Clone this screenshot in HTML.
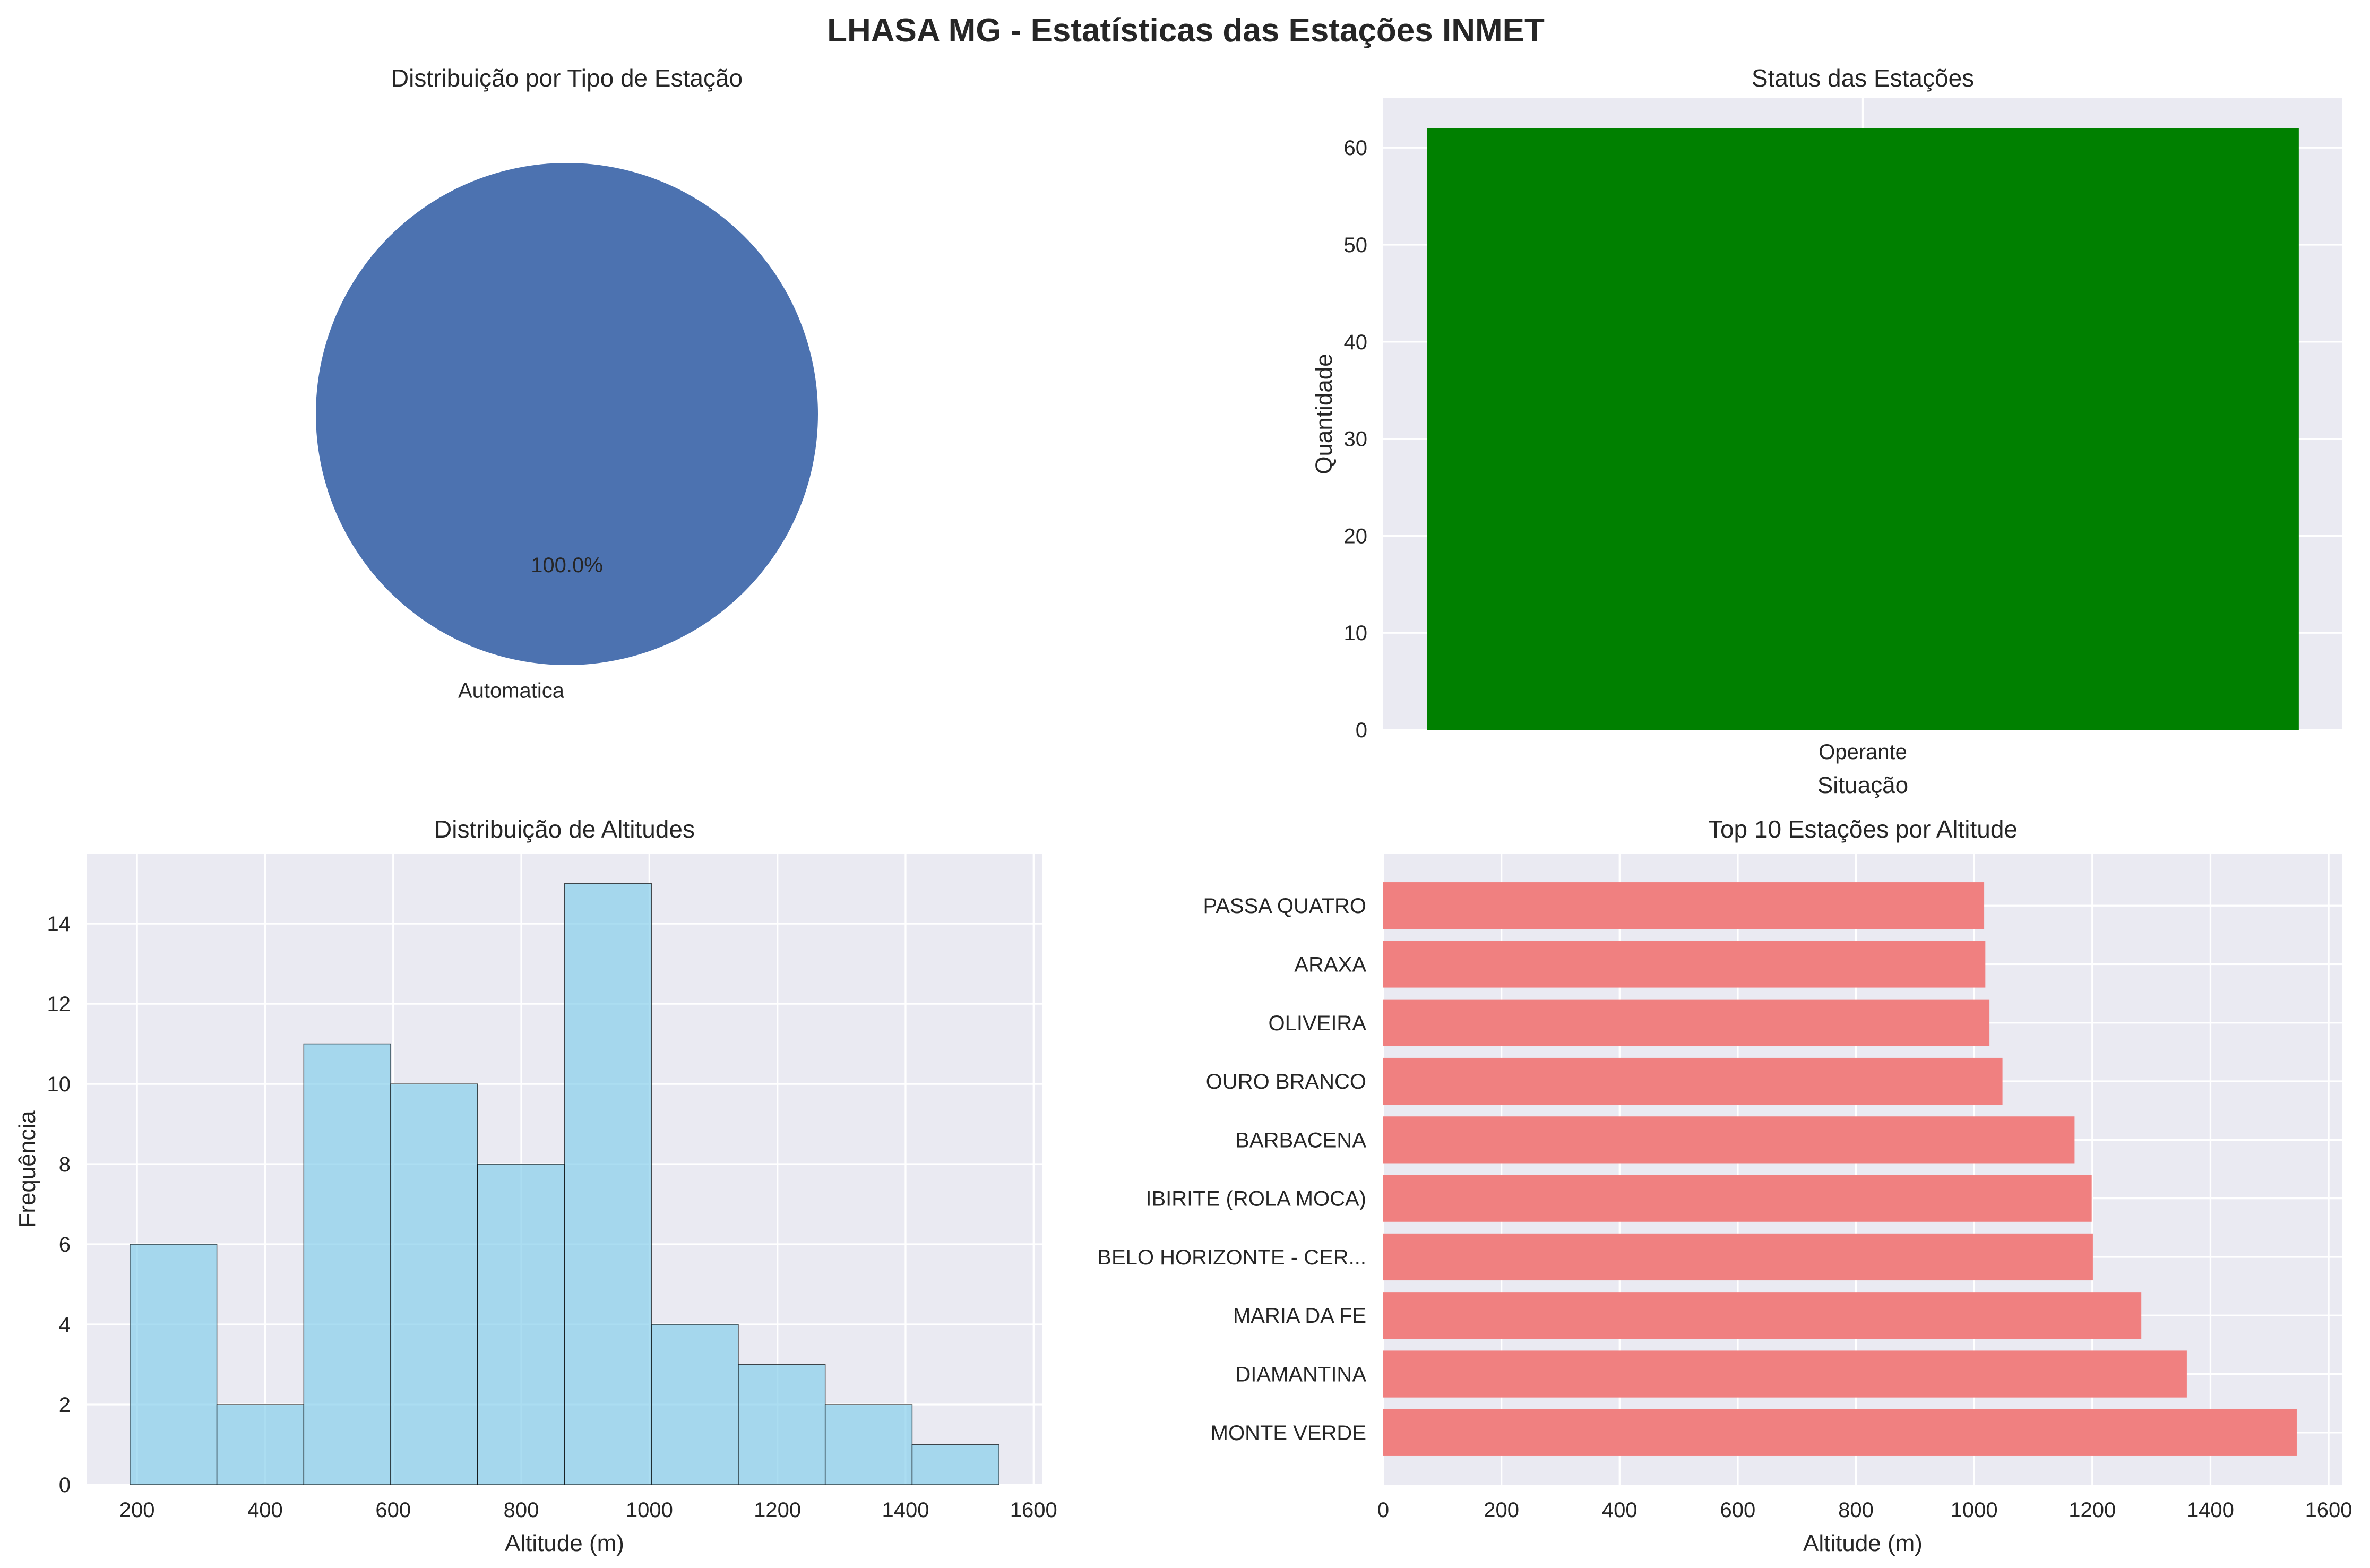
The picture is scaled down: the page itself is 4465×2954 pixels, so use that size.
<!DOCTYPE html>
<html><head><meta charset="utf-8"><style>
html,body{margin:0;padding:0;background:#fff}
svg{display:block;font-family:"Liberation Sans",Arial,sans-serif}
</style></head><body>
<svg id="fig" width="4465" height="2954" viewBox="0 0 4465 2954" xmlns="http://www.w3.org/2000/svg">
<text x="2234" y="78" text-anchor="middle" font-size="62" font-weight="bold" fill="#262626">LHASA MG - Estatísticas das Estações INMET</text>
<g id="pie"></g>
<g id="status"></g>
<g id="hist"></g>
<g id="top10"></g>
</svg>
<script>
const pieLabels=["Automatica"];
const pieValues=[62];
const statusCats=["Operante"];
const statusValues=[62];
const statusTicks=[0,10,20,30,40,50,60];
const histCounts=[6,2,11,10,8,15,4,3,2,1];
const histMin=189, histMax=1546;
const histXTicks=[200,400,600,800,1000,1200,1400,1600];
const histYTicks=[0,2,4,6,8,10,12,14];
const topNames=["MONTE VERDE","DIAMANTINA","MARIA DA FE","BELO HORIZONTE - CER...","IBIRITE (ROLA MOCA)","BARBACENA","OURO BRANCO","OLIVEIRA","ARAXA","PASSA QUATRO"];
const topValues=[1546,1360,1283,1201,1199,1170,1048,1026,1019,1017];
const topXTicks=[0,200,400,600,800,1000,1200,1400,1600];

const NS="http://www.w3.org/2000/svg";
function mk(parent,tag,attrs,text){const e=document.createElementNS(NS,tag);for(const k in attrs)e.setAttribute(k,attrs[k]);if(text!==undefined)e.textContent=text;parent.appendChild(e);return e;}
const TXT="#262626", FS=40, TFS=46, LFS=44;

// Pie
(function(){
  const g=document.getElementById('pie');
  const cx=1068,cy=780,r=473;
  mk(g,'text',{x:cx,y:163,'text-anchor':'middle','font-size':TFS,fill:TXT},'Distribuição por Tipo de Estação');
  const total=pieValues.reduce((a,b)=>a+b,0);
  let a0=-Math.PI/2;
  pieValues.forEach((v,i)=>{
    const frac=v/total;
    let el;
    if(frac>=0.9999){el=mk(g,'circle',{cx:cx,cy:cy,r:r,fill:'#4C72B0'});}
    else{const a1=a0+frac*2*Math.PI;const la=frac>0.5?1:0;
      el=mk(g,'path',{d:`M${cx},${cy} L${cx+r*Math.cos(a0)},${cy+r*Math.sin(a0)} A${r},${r} 0 ${la} 1 ${cx+r*Math.cos(a1)},${cy+r*Math.sin(a1)} Z`,fill:'#4C72B0'});}
    
    
    const mid=Math.PI/2;
    const pt=mk(g,'text',{x:cx,y:cy+0.6*r*Math.sin(mid)+14,'text-anchor':'middle','font-size':FS,fill:TXT},(frac*100).toFixed(1)+'%');
    
    
    const lt=mk(g,'text',{x:cx-105,y:cy+1.1*r+14,'text-anchor':'middle','font-size':FS,fill:TXT},pieLabels[i]);
    
    
    a0+=frac*2*Math.PI;
  });
})();

function axesBg(g,L,T,R,B){const r=mk(g,'rect',{x:L,y:T,width:R-L,height:B-T,fill:'#EAEAF2'});}
function vgrid(g,x,T,B){mk(g,'line',{x1:x,x2:x,y1:T,y2:B,stroke:'#fff','stroke-width':3.3});}
function hgrid(g,y,L,R){mk(g,'line',{x1:L,x2:R,y1:y,y2:y,stroke:'#fff','stroke-width':3.3});}

// Status
(function(){
  const g=document.getElementById('status');
  const L=2606,R=4413,T=185,B=1375;
  const ymax=Math.max(...statusValues)*1.05;
  const Y=v=>B-(v/ymax)*(B-T);
  const n=statusCats.length;
  const X=i=>L+((i+0.44)/(n-1+0.88))*(R-L);
  axesBg(g,L,T,R,B);
  statusTicks.forEach(t=>{hgrid(g,Y(t),L,R);
    const tl=mk(g,'text',{x:L-30,y:Y(t)+14,'text-anchor':'end','font-size':FS,fill:TXT},t);
    
    });
  statusCats.forEach((c,i)=>vgrid(g,X(i),T,B));
  const bw=0.8/(n-1+0.88)*(R-L);
  statusValues.forEach((v,i)=>{
    const b=mk(g,'rect',{x:X(i)-bw/2,y:Y(v),width:bw,height:B-Y(v),fill:'#008000'});
    
    
    const xl=mk(g,'text',{x:X(i),y:1430,'text-anchor':'middle','font-size':FS,fill:TXT},statusCats[i]);
    
    
  });
  mk(g,'text',{x:(L+R)/2,y:163,'text-anchor':'middle','font-size':TFS,fill:TXT},'Status das Estações');
  mk(g,'text',{x:(L+R)/2,y:1494,'text-anchor':'middle','font-size':LFS,fill:TXT},'Situação');
  mk(g,'text',{x:2509,y:(T+B)/2,'text-anchor':'middle','font-size':LFS,fill:TXT,transform:`rotate(-90 2509 ${(T+B)/2})`},'Quantidade');
})();

// Histogram
(function(){
  const g=document.getElementById('hist');
  const L=163,R=1964,T=1608,B=2797;
  const span=histMax-histMin, x0=histMin-0.05*span, x1=histMax+0.05*span;
  const X=v=>L+(v-x0)/(x1-x0)*(R-L);
  const ymax=Math.max(...histCounts)*1.05;
  const Y=v=>B-(v/ymax)*(B-T);
  axesBg(g,L,T,R,B);
  histXTicks.forEach(t=>{vgrid(g,X(t),T,B);
    const tl=mk(g,'text',{x:X(t),y:2858,'text-anchor':'middle','font-size':FS,fill:TXT},t);
    
    });
  histYTicks.forEach(t=>{hgrid(g,Y(t),L,R);
    const tl=mk(g,'text',{x:L-30,y:Y(t)+14,'text-anchor':'end','font-size':FS,fill:TXT},t);
    
    });
  const w=span/histCounts.length;
  histCounts.forEach((c,i)=>{
    const xa=X(histMin+i*w), xb=X(histMin+(i+1)*w);
    const b=mk(g,'rect',{x:xa,y:Y(c),width:xb-xa,height:B-Y(c),fill:'#87CEEB','fill-opacity':0.7,stroke:'#000','stroke-opacity':0.7,'stroke-width':1.5});
    
    
  });
  mk(g,'text',{x:(L+R)/2,y:1578,'text-anchor':'middle','font-size':TFS,fill:TXT},'Distribuição de Altitudes');
  mk(g,'text',{x:(L+R)/2,y:2922,'text-anchor':'middle','font-size':LFS,fill:TXT},'Altitude (m)');
  mk(g,'text',{x:66,y:(T+B)/2,'text-anchor':'middle','font-size':LFS,fill:TXT,transform:`rotate(-90 66 ${(T+B)/2})`},'Frequência');
})();

// Top 10
(function(){
  const g=document.getElementById('top10');
  const L=2606,R=4413,T=1608,B=2797;
  const xmax=Math.max(...topValues)*1.05;
  const X=v=>L+(v/xmax)*(R-L);
  const n=topNames.length;
  const y0=-0.4-0.05*(n-1+0.8), y1=n-1+0.4+0.05*(n-1+0.8);
  const Y=v=>B-(v-y0)/(y1-y0)*(B-T);
  axesBg(g,L,T,R,B);
  topXTicks.forEach(t=>{vgrid(g,X(t),T,B);
    const tl=mk(g,'text',{x:X(t),y:2858,'text-anchor':'middle','font-size':FS,fill:TXT},t);
    
    });
  topNames.forEach((nm,i)=>hgrid(g,Y(i),L,R));
  const bh=0.8/(y1-y0)*(B-T);
  topValues.forEach((v,i)=>{
    const b=mk(g,'rect',{x:L,y:Y(i)-bh/2,width:X(v)-L,height:bh,fill:'#F08080'});
    
    
    const tl=mk(g,'text',{x:L-32,y:Y(i)+14,'text-anchor':'end','font-size':FS,fill:TXT},topNames[i]);
    
    
  });
  mk(g,'text',{x:(L+R)/2,y:1578,'text-anchor':'middle','font-size':TFS,fill:TXT},'Top 10 Estações por Altitude');
  mk(g,'text',{x:(L+R)/2,y:2922,'text-anchor':'middle','font-size':LFS,fill:TXT},'Altitude (m)');
})();
</script>
</body></html>
